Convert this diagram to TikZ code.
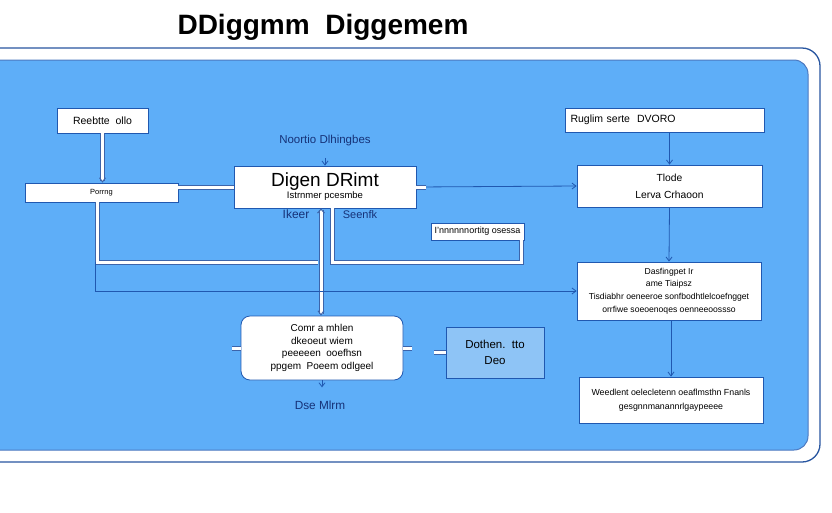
\documentclass[tikz,border=0pt]{standalone}
\usepackage{fontspec}
\setmainfont{Liberation Sans}
\usetikzlibrary{arrows.meta,calc}
\definecolor{skyb}{RGB}{94,174,248}
\definecolor{edgeb}{RGB}{32,88,176}
\definecolor{frameb}{RGB}{40,86,160}
\definecolor{labb}{RGB}{22,50,120}
\definecolor{lightb}{RGB}{142,196,246}
\definecolor{stripb}{RGB}{60,100,170}
\tikzset{
  box/.style={draw=edgeb, fill=white, line width=0.8pt, inner sep=2pt, font=\fontsize{10.5}{12}\selectfont, align=center},
  rbox/.style={box, rounded corners=9pt},
  dbox/.style={box, fill=lightb, font=\fontsize{11.5}{16}\selectfont},
  lab/.style={text=labb, font=\fontsize{11.5}{13}\selectfont},
  wline/.style={draw=stripb, line width=1pt, double=white, double distance=3pt},
  bline/.style={draw=edgeb, line width=0.8pt},
  tip/.style={-{Straight Barb[length=4pt,width=6pt]}},
}
\begin{document}
\begin{tikzpicture}[x=1pt,y=-1pt]
\useasboundingbox (0,0) rectangle (832,512);
\fill[white] (0,0) rectangle (832,512);
% title
\node[font=\bfseries\fontsize{28}{30}\selectfont] (title) at (323,27) {DDiggmm\ \ Diggemem};
% frames
\draw[frameb, line width=1.3pt, fill=white, rounded corners=18pt] (-20,48) rectangle (820,462);
\draw[edgeb!80, line width=1pt, fill=skyb, rounded corners=14pt] (-20,60) rectangle (808,450);
% nodes
\node[box, minimum width=91pt, minimum height=25pt] (reeb) at (102.5,120.5) {Reebtte\ \ ollo};
\node[box, minimum width=153pt, minimum height=19pt, font=\fontsize{7.5}{9}\selectfont] (porr) at (101.5,192.5) {Porrng};
\node[box, minimum width=182pt, minimum height=42pt, inner sep=1pt, font=\fontsize{9.5}{10}\selectfont] (main) at (325,187) {{\fontsize{19}{20}\selectfont Digen DRimt}\\Istrnmer pcesmbe};
\node[lab] (noor) at (325,141) {Noortio Dlhingbes};
\node[lab, font=\fontsize{12}{13}\selectfont] (ikeer) at (296,214.5) {Ikeer};
\node[lab, font=\fontsize{11}{13}\selectfont] (seen) at (360,215) {Seenfk};
\node[box, minimum width=93pt, minimum height=17pt, font=\fontsize{9}{10}\selectfont] (imp) at (477.5,231.5) {I'nnnnnnortitg osessa};
\node[box, minimum width=199pt, minimum height=24pt, text width=190pt, align=left] (rug) at (664.5,120) {\hspace*{1pt}Ruglim serte\ \ DVORO};
\node[box, minimum width=185pt, minimum height=42pt, font=\fontsize{10.3}{17}\selectfont] (tlode) at (669.5,186) {Tlode\\Lerva Crhaoon};
\node[box, minimum width=184pt, minimum height=58pt, inner sep=1pt, font=\fontsize{8.6}{12.8}\selectfont] (mid) at (669,291) {Dasfingpet Ir\\ame Tiaipsz\\Tisdiabhr oeneeroe sonfbodhtlelcoefngget\\orrfiwe soeoenoqes oenneeoossso};
\node[box, minimum width=184pt, minimum height=46pt, font=\fontsize{8.8}{14}\selectfont] (bot) at (671,400) {Weedlent oelecletenn oeaflmsthn Fnanls\\gesgnnmanannrlgaypeeee};
\node[rbox, minimum width=162pt, minimum height=64pt, inner sep=1pt, font=\fontsize{10}{12.4}\selectfont] (comr) at (322,348) {Comr a mhlen\\dkeoeut wiem\\peeeeen\ \ ooefhsn\\ppgem\ \ Poeem odlgeel};
\node[dbox, minimum width=98pt, minimum height=51pt] (doth) at (495,352.5) {Dothen.\ \ tto\\Deo};
\node[lab, font=\fontsize{11.8}{13}\selectfont] (dse) at (320,405) {Dse Mlrm};
% coordinates
\coordinate (jl) at (97,262);
\coordinate (jm) at (318,262);
\coordinate (jc) at (321,0);
\coordinate (jr) at (332,0);
\coordinate (jri) at (521,262);
\coordinate (jb) at (95,262);
% white strips
\draw[wline, tip] (reeb.south) -- (reeb.south |- porr.north);
\draw[wline] (porr.east |- main.west) -- (main.west);
\draw[wline] (jl |- porr.south) -- (jl) -- (jm);
\draw[wline, {Straight Barb[length=4pt,width=7pt]}-{Straight Barb[length=4pt,width=6pt]}] (main.south -| jc) -- (comr.north -| jc);
\draw[wline] (main.south -| jr) |- (jri) -- (imp.south -| jri);
% blue lines
\draw[bline, tip] (jb) |- (mid.west);
\draw[bline, tip] (main.east) -- (tlode.west);
\draw[wline] (main.east) -- ++(10,0);
\draw[bline, tip] (tlode.north |- rug.south) -- (tlode.north);
\draw[bline, tip] (tlode.south) -- (mid.north);
\draw[bline, tip] (mid.south -| bot.north) -- (bot.north);
\draw[bline, tip] (main.north |- noor.south) ++(0,8) -- (main.north);
\draw[bline, tip] (comr.south) -- ++(0,7);
% stubs
\draw[wline] (comr.west) -- ++(-9,0);
\draw[wline] (comr.east) -- ++(9,0);
\draw[wline] (doth.west) -- ++(-12,0);
\end{tikzpicture}
\end{document}
